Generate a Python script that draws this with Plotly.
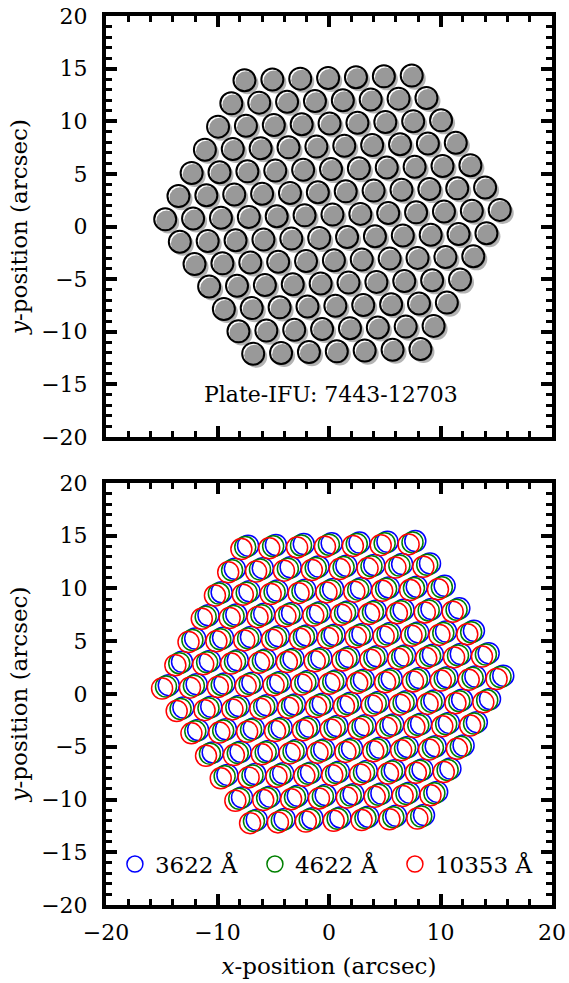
import plotly.graph_objects as go

FONT = "DejaVu Serif"

# Fibre centres of the 127-fibre bundle (arcsec), one list per hexagon row, top to bottom
fiber_x_rows = [
    [-7.58, -5.08, -2.58, -0.08, 2.42, 4.92, 7.42],
    [-8.76, -6.26, -3.76, -1.26, 1.24, 3.74, 6.24, 8.74],
    [-9.95, -7.45, -4.95, -2.45, 0.05, 2.55, 5.05, 7.55, 10.05],
    [-11.13, -8.63, -6.13, -3.63, -1.13, 1.37, 3.87, 6.37, 8.87, 11.37],
    [-12.32, -9.82, -7.32, -4.82, -2.32, 0.18, 2.68, 5.18, 7.68, 10.18, 12.68],
    [-13.50, -11.00, -8.50, -6.00, -3.50, -1.00, 1.50, 4.00, 6.50, 9.00, 11.50, 14.00],
    [-14.69, -12.19, -9.69, -7.19, -4.69, -2.19, 0.31, 2.81, 5.31, 7.81, 10.31, 12.81, 15.31],
    [-13.38, -10.88, -8.38, -5.88, -3.38, -0.88, 1.62, 4.12, 6.62, 9.12, 11.62, 14.12],
    [-12.06, -9.56, -7.06, -4.56, -2.06, 0.44, 2.94, 5.44, 7.94, 10.44, 12.94],
    [-10.75, -8.25, -5.75, -3.25, -0.75, 1.75, 4.25, 6.75, 9.25, 11.75],
    [-9.43, -6.93, -4.43, -1.93, 0.57, 3.07, 5.57, 8.07, 10.57],
    [-8.12, -5.62, -3.12, -0.62, 1.88, 4.38, 6.88, 9.38],
    [-6.80, -4.30, -1.80, 0.70, 3.20, 5.70, 8.20],
]
fiber_y_rows = [
    [13.90, 13.97, 14.05, 14.12, 14.19, 14.27, 14.34],
    [11.70, 11.77, 11.85, 11.92, 12.00, 12.07, 12.15, 12.22],
    [9.49, 9.57, 9.64, 9.72, 9.79, 9.86, 9.94, 10.01, 10.09],
    [7.30, 7.37, 7.44, 7.52, 7.59, 7.67, 7.74, 7.82, 7.89, 7.96],
    [5.09, 5.16, 5.24, 5.31, 5.39, 5.46, 5.53, 5.61, 5.68, 5.76, 5.83],
    [2.89, 2.97, 3.04, 3.11, 3.19, 3.26, 3.34, 3.41, 3.49, 3.56, 3.63, 3.71],
    [0.68, 0.76, 0.83, 0.91, 0.98, 1.06, 1.13, 1.20, 1.28, 1.35, 1.43, 1.50, 1.58],
    [-1.45, -1.37, -1.30, -1.23, -1.15, -1.08, -1.00, -0.93, -0.85, -0.78, -0.71, -0.63],
    [-3.57, -3.50, -3.42, -3.35, -3.27, -3.20, -3.13, -3.05, -2.98, -2.90, -2.83],
    [-5.70, -5.63, -5.56, -5.48, -5.41, -5.33, -5.26, -5.18, -5.11, -5.04],
    [-7.83, -7.75, -7.68, -7.60, -7.53, -7.46, -7.38, -7.31, -7.23],
    [-9.96, -9.89, -9.81, -9.74, -9.66, -9.59, -9.51, -9.44],
    [-12.08, -12.01, -11.93, -11.86, -11.79, -11.71, -11.64],
]

# Wavelength channels and the shift of the fibre footprint at each (arcsec)
wavelength_labels = ["3622 Å", "4622 Å", "10353 Å"]
shift_x = [0.32, 0.07, -0.28]
shift_y = [0.16, 0.03, -0.16]
channel_colors = ["#0000ff", "#008000", "#ff0000"]

plate_ifu = "7443-12703"

fx = [v for row in fiber_x_rows for v in row]
fy = [v for row in fiber_y_rows for v in row]

fig = go.Figure()

# --- upper panel: shaded fibre faces ---
def layer(dx, dy, **marker):
    fig.add_trace(go.Scatter(
        x=[v + dx for v in fx], y=[v + dy for v in fy],
        mode="markers", marker=marker, xaxis="x", yaxis="y",
        hoverinfo="skip", showlegend=False))

layer(0.27, -0.29, size=22, color="#b4b4b4", line=dict(width=0))          # drop shadow
layer(0.0, 0.0, size=23, color="#ffffff", line=dict(width=0))             # fibre face
layer(0.14, -0.15, size=21, color="#999999", line=dict(width=0))          # grey core
layer(0.0, 0.0, size=22, symbol="circle-open", color="#000000",
      line=dict(width=2, color="#000000"))                                 # fibre edge

# --- lower panel: fibre footprints per wavelength ---
for lab, sx, sy, col in zip(wavelength_labels, shift_x, shift_y, channel_colors):
    fig.add_trace(go.Scatter(
        x=[v + sx for v in fx], y=[v + sy for v in fy],
        mode="markers", name=lab,
        marker=dict(symbol="circle-open", size=21, color=col,
                    line=dict(width=1.5, color=col)),
        xaxis="x2", yaxis="y2", hoverinfo="skip"))

axis_common = dict(
    range=[-20, 20], showgrid=False, zeroline=False, automargin=False,
    showline=True, linewidth=4, linecolor="black", mirror="allticks",
    ticks="inside", ticklen=11, tickwidth=3.5, tickcolor="black",
    tickfont=dict(family=FONT, size=22, color="black"),
)

fig.update_layout(
    width=569, height=983,
    margin=dict(l=106, r=17, t=16, b=78),
    paper_bgcolor="white", plot_bgcolor="white",
    font=dict(family=FONT, size=22, color="black"),
    xaxis=dict(axis_common, anchor="y", matches="x2", showticklabels=False,
               tickvals=[-20, -10, 0, 10, 20],
               minor=dict(dtick=2, ticks="inside", ticklen=6, tickwidth=2.5, tickcolor="black")),
    yaxis=dict(axis_common, anchor="x", domain=[0.5264, 1.0], dtick=5,
               ticklabelstandoff=10,
               minor=dict(dtick=1, ticks="inside", ticklen=6, tickwidth=2.5, tickcolor="black"),
               title=dict(text="<i>y</i>-position (arcsec)", standoff=8,
                          font=dict(family=FONT, size=23))),
    xaxis2=dict(axis_common, anchor="y2", tickvals=[-20, -10, 0, 10, 20],
                ticklabelstandoff=5,
                minor=dict(dtick=2, ticks="inside", ticklen=6, tickwidth=2.5, tickcolor="black"),
                title=dict(text="<i>x</i>-position (arcsec)", standoff=14,
                           font=dict(family=FONT, size=23))),
    yaxis2=dict(axis_common, anchor="x2", domain=[0.0, 0.4747], dtick=5,
                ticklabelstandoff=10,
                minor=dict(dtick=1, ticks="inside", ticklen=6, tickwidth=2.5, tickcolor="black"),
                title=dict(text="<i>y</i>-position (arcsec)", standoff=8,
                           font=dict(family=FONT, size=23))),
    legend=dict(orientation="h", x=0.02, xanchor="left", y=0.046, yanchor="middle",
                bgcolor="rgba(0,0,0,0)", font=dict(family=FONT, size=23),
                entrywidth=95, itemclick=False, itemdoubleclick=False),
    annotations=[dict(text=f"Plate-IFU: {plate_ifu}", x=0.2, y=-16.0, xref="x", yref="y",
                      showarrow=False, xanchor="center", yanchor="middle",
                      font=dict(family=FONT, size=22, color="black"))],
)

fig.write_html("out.html")
